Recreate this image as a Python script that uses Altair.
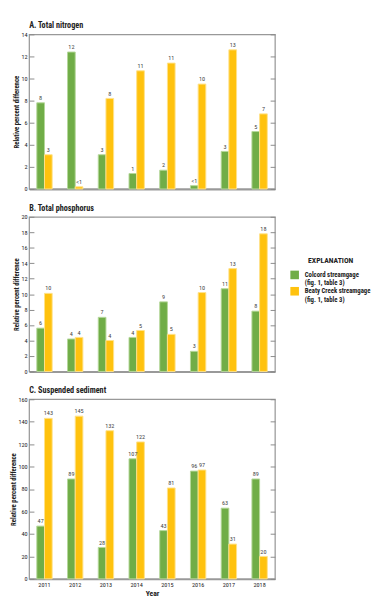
import altair as alt
import pandas as pd

years = ["2011", "2012", "2013", "2014", "2015", "2016", "2017", "2018"]
sites = ["Colcord streamgage|\u00a0\u00a0(fig. 1, table 3)",
         "Beaty Creek streamgage|\u00a0\u00a0(fig. 1, table 3)"]

# A. Total nitrogen
a_colcord = [7.8, 12.4, 3.1, 1.4, 1.7, 0.3, 3.4, 5.2]
a_beaty = [3.1, 0.2, 8.2, 10.7, 11.4, 9.5, 12.6, 6.8]
a_colcord_lab = ["8", "12", "3", "1", "2", "<1", "3", "5"]
a_beaty_lab = ["3", "<1", "8", "11", "11", "10", "13", "7"]

# B. Total phosphorus
b_colcord = [5.6, 4.2, 7.0, 4.4, 9.0, 2.6, 10.7, 7.8]
b_beaty = [10.1, 4.4, 4.0, 5.3, 4.8, 10.2, 13.3, 17.8]
b_colcord_lab = ["6", "4", "7", "4", "9", "3", "11", "8"]
b_beaty_lab = ["10", "4", "4", "5", "5", "10", "13", "18"]

# C. Suspended sediment
c_colcord = [47, 89, 28, 107, 43, 96, 63, 89]
c_beaty = [143, 145, 132, 122, 81, 97, 31, 20]
c_colcord_lab = ["47", "89", "28", "107", "43", "96", "63", "89"]
c_beaty_lab = ["143", "145", "132", "122", "81", "97", "31", "20"]

FONT = "Roboto Condensed, Liberation Sans Narrow, Liberation Sans, sans-serif"
GREEN = "#70AD47"
YELLOW = "#FFC20E"
INK = "#222"


def make_df(c, b, cl, bl):
    rows = []
    for i, y in enumerate(years):
        rows.append(dict(year=y, site=sites[0], value=c[i], label=cl[i]))
        rows.append(dict(year=y, site=sites[1], value=b[i], label=bl[i]))
    return pd.DataFrame(rows)


legend = alt.Legend(
    title="EXPLANATION", orient="none", legendX=272, legendY=232, padding=0,
    symbolType="square", symbolSize=80, symbolStrokeWidth=0, symbolOffset=0,
    labelExpr="split(datum.label, '|')", labelFontSize=7, labelFontWeight="bold",
    labelColor=INK, titleFontSize=8, labelOffset=6,
    titleFontWeight="bold", titleColor=INK, titleAnchor="middle",
    titlePadding=6, rowPadding=0, labelFont=FONT, titleFont=FONT,
)


def panel(df, title, ymax, step, height, show_x):
    ticks = list(range(0, ymax + 1, step))
    yscale = alt.Scale(domain=[0, ymax], nice=False)
    x = alt.X("year:O", scale=alt.Scale(paddingInner=0.5, paddingOuter=0.25),
              axis=alt.Axis(title="Year" if show_x else None, labels=show_x,
                            ticks=False, domainColor="#999", domainWidth=2,
                            labelPadding=3, labelFontSize=6.5, labelColor=INK,
                            labelAngle=0, titleFontSize=8, titleFontWeight="bold",
                            titleColor=INK, titlePadding=2))
    xo = alt.XOffset("site:N", sort=sites,
                     scale=alt.Scale(paddingInner=0, paddingOuter=0))
    base = alt.Chart(df)
    bars = base.mark_bar(strokeWidth=1).encode(
        x=x, xOffset=xo,
        y=alt.Y("value:Q", scale=yscale,
                axis=alt.Axis(orient="left", values=ticks,
                              title="Relative percent difference",
                              offset=-5, tickSize=5, domain=False, grid=False,
                              tickColor="#888", labelPadding=2, labelFontSize=6.5,
                              labelColor=INK, titleFontSize=7,
                              titleFontWeight="bold", titleColor=INK,
                              titlePadding=2)),
        color=alt.Color("site:N", sort=sites,
                        scale=alt.Scale(domain=sites, range=[GREEN, YELLOW]),
                        legend=legend),
        stroke=alt.Stroke("site:N", sort=sites,
                          scale=alt.Scale(domain=sites, range=["#B5D79A", "#FFE28A"]),
                          legend=None),
    )
    text = base.mark_text(baseline="bottom", dy=-2, fontSize=6.5, color="#444",
                          font=FONT).encode(
        x=x, xOffset=xo,
        y=alt.Y("value:Q", scale=yscale,
                axis=alt.Axis(orient="right", values=ticks, labels=False,
                              title=None, offset=-5, tickSize=5, domain=False,
                              grid=False, tickColor="#888")),
        text="label:N",
    )
    return alt.layer(bars, text).resolve_axis(y="independent").properties(
        width=256, height=height,
        title=alt.TitleParams(title, anchor="start", frame="group", fontSize=8.5,
                              fontWeight="bold", color=INK, offset=2, font=FONT),
    )


pa = panel(make_df(a_colcord, a_beaty, a_colcord_lab, a_beaty_lab),
           "A. Total nitrogen", 14, 2, 161, False)
pb = panel(make_df(b_colcord, b_beaty, b_colcord_lab, b_beaty_lab),
           "B. Total phosphorus", 20, 2, 161, False)
pc = panel(make_df(c_colcord, c_beaty, c_colcord_lab, c_beaty_lab),
           "C. Suspended sediment", 160, 20, 187, True)

chart = alt.vconcat(pa, pb, pc, spacing=9).resolve_scale(
    color="shared", stroke="shared"
).properties(padding=0).configure(font=FONT).configure_view(
    stroke="#999", strokeWidth=1.3
)

chart.save("out.html", embed_options={"renderer": "svg", "actions": False})
